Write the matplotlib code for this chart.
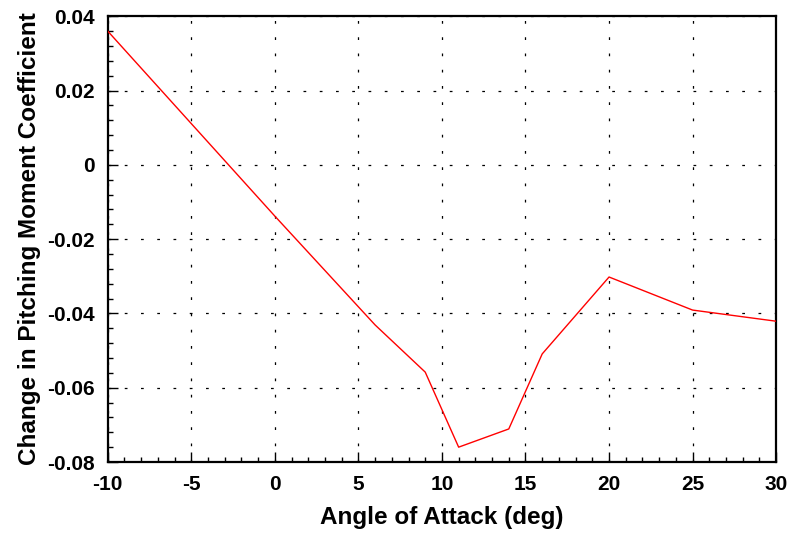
import numpy as np
import matplotlib.pyplot as plt
from matplotlib.ticker import MultipleLocator

plt.rcParams['font.family'] = ['Liberation Sans', 'DejaVu Sans']
plt.rcParams['font.weight'] = 'bold'
plt.rcParams['axes.unicode_minus'] = False

# angle of attack (deg) and change in pitching moment coefficient
alpha = [-10, 0, 6, 9, 11, 14, 16, 20, 25, 30]
dcm = [0.036, -0.0138, -0.0431, -0.0558, -0.0760, -0.0711, -0.0509, -0.0302, -0.0391, -0.0421]

xticks = [-10, -5, 0, 5, 10, 15, 20, 25, 30]
yticks = [-0.08, -0.06, -0.04, -0.02, 0, 0.02, 0.04]
ytick_labels = ["-0.08", "-0.06", "-0.04", "-0.02", "0", "0.02", "0.04"]

fig = plt.figure(figsize=(7.92, 5.41), dpi=100)
ax = fig.add_axes([0.136, 0.146, 0.844, 0.824])

ax.plot(alpha, dcm, color='red', lw=1.0, zorder=3)

ax.set_xlim(-10, 30)
ax.set_ylim(-0.08, 0.04)
ax.set_xticks(xticks)
ax.set_yticks(yticks)
ax.set_yticklabels(ytick_labels)
ax.xaxis.set_minor_locator(MultipleLocator(1))
ax.yaxis.set_minor_locator(MultipleLocator(0.004))

ax.grid(True, which='major', color='black', lw=0.9, linestyle=(0, (2.2, 10.8)))
ax.tick_params(which='both', direction='in', top=False, right=False, labelsize=15, width=1.0)
ax.tick_params(axis='y', which='major', length=7, pad=9)
ax.tick_params(axis='x', which='major', length=7, pad=9)
ax.tick_params(which='minor', length=3.5)
for s in ax.spines.values():
    s.set_linewidth(1.6)

ax.set_xlabel("Angle of Attack (deg)", fontsize=17.5, fontweight='bold', labelpad=9)
ax.set_ylabel("Change in Pitching Moment Coefficient", fontsize=17.5, fontweight='bold', labelpad=5)

plt.savefig("out.png", dpi=100)
